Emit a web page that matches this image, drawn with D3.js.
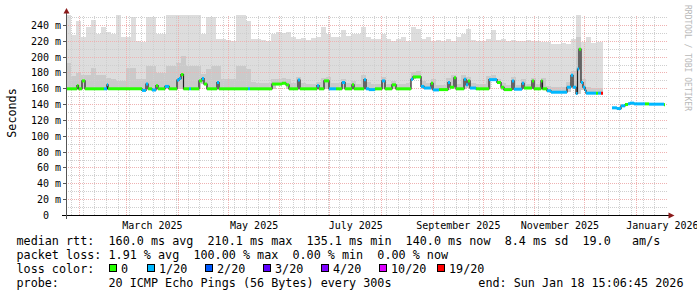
<!DOCTYPE html>
<html>
<head>
<meta charset="utf-8">
<script src="https://cdn.jsdelivr.net/npm/d3@7"></script>
<style>
  body { margin: 0; background: #fff; }
  svg text { font-family: "DejaVu Sans Mono", monospace; white-space: pre; }
</style>
</head>
<body>
<svg id="chart" width="697" height="297"></svg>
<script>
// smokeping style latency graph, last 360 days

const plotLeft = 66;
const plotRight = 666;
const plotTop = 15.5;
const plotBottom = 215.5;
const yMax = 252.6;

const endTime = new Date(2026, 0, 18, 15, 6, 45);
const spanDays = 360;

// median rtt runs: each run starts at runDay (days after graph start) and lasts until the next one
const runDay = [0, 6.6, 7.5, 9.6, 11.4, 22.8, 24.6, 25.2, 45.6, 48, 49.2, 51.6, 54, 55.2, 59.4, 61.8,
    66.6, 67.8, 69, 70.5, 73.8, 75, 79.8, 81.6, 82.8, 84.6, 90.6, 91.8, 109.2, 110.4, 123.6, 129.6,
    132, 133.8, 139.2, 140.4, 150.6, 151.8, 154.8, 157.8, 162, 165.6, 167.4, 171.6, 172.8, 178.8, 180,
    181.8, 185.4, 189.6, 191.4, 195.6, 198, 207, 208.2, 213, 214.8, 219, 220.2, 223.8, 229.2, 230.4,
    232.8, 234, 238.8, 240, 241.2, 242.4, 246, 253.8, 258.6, 261, 262.8, 267.6, 268.8, 273.6, 274.8,
    279.6, 280.8, 285, 285.9, 288.6, 291, 300.6, 303, 304.2, 306, 306.9, 307.8, 309, 310.2, 311.4,
    312, 318, 319.2, 321, 322.2, 327.6, 330.6, 333, 335.4, 337.2, 338.4, 340.8, 347.4, 349.8, 358.8, 359.4];
const runMedian = [160, 164, 160, 170, 160, 160, 165, 160, 158, 166, 160, 158.5, 164, 160, 163, 160,
    171, 173, 178, 160, 160, 160, 170, 173, 166, 160, 168, 160, 160, 160, 166, 167,
    165, 160, 171, 160, 164, 160, 170, 160, 160, 168, 160, 165, 160, 171.5, 160,
    159, 160, 170, 160, 165, 160, 172, 175, 163, 161, 167, 158.6, 159, 168, 162,
    174, 160, 172, 165, 170, 161, 160, 171.6, 168, 162, 159, 170, 159.5, 167, 161,
    170, 160, 170, 160, 157.5, 155.7, 162, 177, 162, 154, 185, 210.1, 168, 162, 158,
    154.5, 154.5, 154.5, 154.5, null, 136, 135.1, 138.5, 140.2, 141, 141.9, 141, 141, 140.6, 140, null];
// lost pings out of 20 for each run
const runLoss = [0, 0, 0, 0, 0, 1, 1, 0, 1, 1, 0, 1, 0, 0, 1, 0,
    1, 1, 0, 0, 1, 0, 0, 1, 0, 0, 1, 0, 1, 0, 0, 0,
    0, 0, 1, 0, 1, 0, 0, 1, 0, 1, 0, 0, 0, 1, 1,
    1, 0, 1, 0, 0, 0, 1, 0, 1, 1, 0, 1, 0, 1, 0,
    0, 0, 1, 1, 0, 1, 0, 1, 0, 0, 0, 1, 1, 1, 0,
    0, 0, 0, 0, 1, 1, 1, 1, 1, 1, 1, 0, 1, 1, 1,
    1, 0, 1, 19, null, 1, 1, 1, 0, 1, 1, 1, 0, 1, 0, null];

// smoke: one column every 3 days, highest ping and second highest ping (ms)
const smokeStep = 3;
const smokeMax = [253, 228, 246, 226, 238, 247, 229, 238, 232, 229,
    253, 225, 225, 251, 221, 219, 251, 251, 229, 229,
    253, 253, 253, 253, 253, 253, 253, 229, 251, 251,
    223, 223, 222, 221, 253, 253, 246, 223, 223, 222,
    221, 229, 232, 231, 232, 225, 223, 224, 222, 224,
    225, 238, 229, 225, 225, 234, 227, 229, 229, 238,
    225, 223, 223, 229, 223, 221, 223, 225, 221, 238,
    236, 223, 225, 221, 222, 220, 223, 221, 225, 229,
    236, 222, 221, 220, 223, 234, 222, 223, 221, 222,
    220, 221, 222, 221, 220, 219, 219, 217, 217, 218,
    217, 223, 253, 219, 225, 218, 219, 219];
const smokeInner = [192, 176, 180, 177, 177, 186, 177, 177, 174, 172,
    170, 170, 186, 186, 172, 172, 189, 189, 180, 180,
    189, 189, 192, 202, 189, 189, 189, 179, 185, 189,
    189, 172, 172, 172, 189, 189, 185, 168, 167, 167,
    167, 172, 173, 174, 172, 167, 175, 167, 166, 166,
    169, 174, 175, 167, 167, 172, 167, 170, 166, 177,
    168, 166, 166, 175, 166, 170, 166, 166, 167, 181,
    182, 170, 167, 172, 165, 165, 174, 178, 166, 177,
    175, 167, 166, 166, 176, 177, 173, 167, 165, 175,
    165, 172, 166, 174, 166, 174, 164, 162, 162, 162,
    168, 183, 225, 172, 162, 161, 161, 161];

const lossLevels = [0, 1, 2, 3, 4, 10, 19];
const lossColors = ["#26ff00", "#00b8ff", "#0059ff", "#5e00ff", "#7e00ff", "#dd00ff", "#ff0000"];
const lossLabels = ["0", "1/20", "2/20", "3/20", "4/20", "10/20", "19/20"];

const yTicks = [0, 20, 40, 60, 80, 100, 120, 140, 160, 180, 200, 220, 240];
const monthLabelDates = ["2025-03-01", "2025-05-01", "2025-07-01", "2025-09-01", "2025-11-01", "2026-01-01"];

const rttStats = ["160.0 ms avg", "210.1 ms max", "135.1 ms min", "140.0 ms now", "8.4 ms sd", "19.0   am/s"];
const lossStats = ["1.91 % avg", "100.00 % max", "0.00 % min", "0.00 % now"];
const probeText = "20 ICMP Echo Pings (56 Bytes) every 300s";
const endText = "end: Sun Jan 18 15:06:45 2026";

const legendFont = 11.75;
const legendLeft = 16.5;
const legendValueX = 108.5;

const startTime = new Date(endTime.getTime() - spanDays * 864e5);
const dayToDate = d => new Date(startTime.getTime() + d * 864e5);

const x = d3.scaleTime().domain([startTime, endTime]).range([plotLeft, plotRight]);
const y = d3.scaleLinear().domain([0, yMax]).range([plotBottom, plotTop]);
const xd = d => x(dayToDate(d));
const snap = v => Math.round(v - 0.5) + 0.5;

let runs = [];
for (let i = 0; i < runDay.length - 1; i++) {
    runs.push({ d0: runDay[i], d1: runDay[i + 1], med: runMedian[i], loss: runLoss[i] });
}

const smokeCols = [];
smokeMax.forEach((mx, i) => {
    const d0 = i * smokeStep, d1 = d0 + smokeStep;
    const inside = runs.filter(r => r.med != null && r.d0 < d1 && r.d1 > d0);
    if (mx == null || inside.length === 0) return;
    smokeCols.push({
        d0: d0,
        d1: Math.min(d1, d3.max(inside, r => r.d1)),
        max: mx,
        inner: smokeInner[i],
        low: d3.min(inside, r => r.med)
    });
});

const svg = d3.select("#chart");

// smoke
svg.append("g").selectAll("rect")
    .data(smokeCols)
    .enter()
    .append("rect")
    .attr("x", d => xd(d.d0))
    .attr("width", d => xd(d.d1) - xd(d.d0))
    .attr("y", d => y(d.max))
    .attr("height", d => y(d.low) - y(d.max))
    .attr("fill", "#dddddd")
    .attr("shape-rendering", "crispEdges");

svg.append("g").selectAll("rect")
    .data(smokeCols)
    .enter()
    .append("rect")
    .attr("x", d => xd(d.d0))
    .attr("width", d => xd(d.d1) - xd(d.d0))
    .attr("y", d => y(d.inner))
    .attr("height", d => y(d.low) - y(d.inner))
    .attr("fill", "#cacaca")
    .attr("shape-rendering", "crispEdges");

// grid
const gGrid = svg.append("g")
    .attr("shape-rendering", "crispEdges")
    .attr("stroke-width", 1)
    .attr("stroke-dasharray", "1,1");

const minorY = d3.range(10, yMax, 20);
gGrid.selectAll(".hminor")
    .data(minorY)
    .enter()
    .append("line")
    .attr("x1", plotLeft).attr("x2", plotRight + 2)
    .attr("y1", d => snap(y(d))).attr("y2", d => snap(y(d)))
    .attr("stroke", "#cfcfcf");

gGrid.selectAll(".vminor")
    .data(d3.timeMonday.range(startTime, endTime))
    .enter()
    .append("line")
    .attr("x1", d => snap(x(d))).attr("x2", d => snap(x(d)))
    .attr("y1", plotTop).attr("y2", plotBottom)
    .attr("stroke", "#cfcfcf");

gGrid.selectAll(".hmajor")
    .data(yTicks.slice(1))
    .enter()
    .append("line")
    .attr("x1", plotLeft).attr("x2", plotRight + 2)
    .attr("y1", d => snap(y(d))).attr("y2", d => snap(y(d)))
    .attr("stroke", "#efb2b2");

gGrid.selectAll(".vmajor")
    .data(d3.timeMonth.range(startTime, endTime))
    .enter()
    .append("line")
    .attr("x1", d => snap(x(d))).attr("x2", d => snap(x(d)))
    .attr("y1", plotTop).attr("y2", plotBottom)
    .attr("stroke", "#efb2b2");

// median line: thin dark steps, then loss coloured runs on top
let stepPoints = [];
runs.forEach((r, i) => {
    stepPoints.push({ d: r.d0, med: r.med });
    const next = runs[i + 1];
    if (r.med != null && (!next || next.med == null)) stepPoints.push({ d: r.d1, med: r.med });
});

const stepLine = d3.line()
    .defined(p => p.med != null)
    .x(p => xd(p.d))
    .y(p => y(p.med))
    .curve(d3.curveStepAfter);

svg.append("path")
    .datum(stepPoints)
    .attr("d", stepLine)
    .attr("fill", "none")
    .attr("stroke", "#202020")
    .attr("stroke-width", 1.2);

const lossColor = l => lossColors[Math.max(0, d3.bisectRight(lossLevels, l) - 1)];

svg.append("g").selectAll("line")
    .data(runs.filter(r => r.med != null))
    .enter()
    .append("line")
    .attr("x1", r => xd(r.d0))
    .attr("x2", r => xd(r.d1))
    .attr("y1", r => y(r.med))
    .attr("y2", r => y(r.med))
    .attr("stroke", r => lossColor(r.loss))
    .attr("stroke-width", 3);

// axes
const gAxis = svg.append("g").attr("shape-rendering", "crispEdges");
gAxis.append("line")
    .attr("x1", plotLeft - 4).attr("x2", plotRight + 4)
    .attr("y1", plotBottom).attr("y2", plotBottom)
    .attr("stroke", "#000");
gAxis.append("line")
    .attr("x1", plotLeft + 0.5).attr("x2", plotLeft + 0.5)
    .attr("y1", plotBottom + 3).attr("y2", plotTop - 3)
    .attr("stroke", "#555");
gAxis.selectAll(".ytick")
    .data(yTicks.slice(1))
    .enter()
    .append("line")
    .attr("x1", plotLeft - 3).attr("x2", plotLeft)
    .attr("y1", d => snap(y(d))).attr("y2", d => snap(y(d)))
    .attr("stroke", "#555");

svg.append("path")
    .attr("d", `M${plotLeft - 2.5},${plotTop - 2} L${plotLeft + 0.5},${plotTop - 7.5} L${plotLeft + 3.5},${plotTop - 2} Z`)
    .attr("fill", "#8b1a1a");
svg.append("path")
    .attr("d", `M${plotRight + 2.5},${plotBottom - 3} L${plotRight + 8.5},${plotBottom} L${plotRight + 2.5},${plotBottom + 3} Z`)
    .attr("fill", "#8b1a1a");

svg.append("g").selectAll("text")
    .data(yTicks)
    .enter()
    .append("text")
    .attr("x", 61)
    .attr("y", d => snap(y(d)) + 3.6)
    .attr("text-anchor", "end")
    .attr("font-size", 10)
    .attr("fill", "#000")
    .text(d => d === 0 ? "0  " : d + " m");

const parseDay = d3.timeParse("%Y-%m-%d");
const fmtMonth = d3.timeFormat("%B %Y");
svg.append("g").selectAll("text")
    .data(monthLabelDates.map(parseDay))
    .enter()
    .append("text")
    .attr("x", d => (x(d) + x(d3.timeMonth.offset(d, 1))) / 2)
    .attr("y", 228.5)
    .attr("text-anchor", "middle")
    .attr("font-size", 10)
    .text(d => fmtMonth(d));

svg.append("text")
    .attr("transform", "translate(15.5,113) rotate(-90)")
    .attr("text-anchor", "middle")
    .attr("font-size", legendFont)
    .text("Seconds");

svg.append("text")
    .attr("transform", "translate(685,5) rotate(90)")
    .attr("font-size", 8)
    .attr("fill", "#b8b8b8")
    .text("RRDTOOL / TOBI OETIKER");

// legend
const gLegend = svg.append("g").attr("font-size", legendFont);
gLegend.append("text").attr("x", legendLeft).attr("y", 245).text("median rtt:");
gLegend.append("text").attr("x", legendValueX).attr("y", 245).text(rttStats.join("  "));
gLegend.append("text").attr("x", legendLeft).attr("y", 259).text("packet loss:");
gLegend.append("text").attr("x", legendValueX).attr("y", 259).text(lossStats.join("  "));
gLegend.append("text").attr("x", legendLeft).attr("y", 273).text("loss color:");
gLegend.append("text").attr("x", legendLeft).attr("y", 287).text("probe:");
gLegend.append("text").attr("x", legendValueX).attr("y", 287).text(probeText);
gLegend.append("text").attr("x", 683.5).attr("y", 287).attr("text-anchor", "end").text(endText);

const boxX = i => i === 0 ? legendValueX : legendValueX + 38.4 + (i - 1) * 58.1;
const gBoxes = gLegend.selectAll(".loss-item")
    .data(lossLabels)
    .enter()
    .append("g");
gBoxes.append("rect")
    .attr("x", (_, i) => Math.round(boxX(i)) + 0.5)
    .attr("y", 264.5)
    .attr("width", 7)
    .attr("height", 7)
    .attr("fill", (_, i) => lossColors[i])
    .attr("stroke", "#000")
    .attr("shape-rendering", "crispEdges");
gBoxes.append("text")
    .attr("x", (_, i) => Math.round(boxX(i)) + 12)
    .attr("y", 273)
    .text(d => d);
</script>
</body>
</html>
